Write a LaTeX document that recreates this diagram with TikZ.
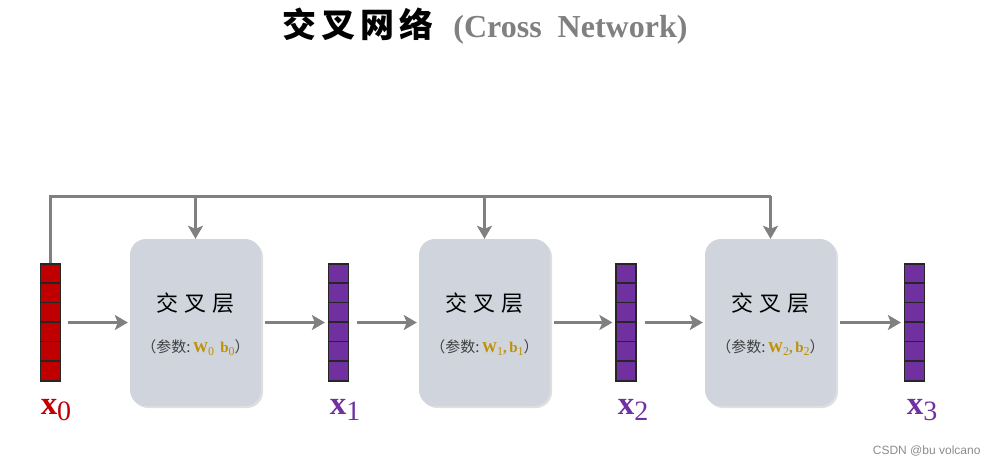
\documentclass[tikz,border=0pt]{standalone}
\usepackage{fontspec}
\setmainfont{Liberation Serif}
\newfontfamily\cjk{Noto Sans CJK SC}
\newfontfamily\wm{Liberation Sans}
\usetikzlibrary{arrows.meta,shadows}
\definecolor{arrgray}{HTML}{808080}
\definecolor{boxfill}{HTML}{CFD4DD}
\definecolor{vred}{HTML}{C00000}
\definecolor{vpurple}{HTML}{7030A0}
\definecolor{gold}{HTML}{BF9000}
\newcommand{\vlab}[1]{{\fontsize{33}{34}\selectfont\textbf{x}}{\fontsize{28}{30}\selectfont\raisebox{-6pt}{#1}}}
\begin{document}
\begin{tikzpicture}[x=1pt,y=-1pt,
  layerbox/.style={draw=none,fill=boxfill,rounded corners=16pt,minimum width=131pt,minimum height=167pt,
     drop shadow={shadow xshift=2pt,shadow yshift=-2pt,opacity=0.25}},
  flow/.style={draw=arrgray,line width=3pt,-{Stealth[length=13pt,width=15pt,inset=3pt]}},
  feed/.style={draw=arrgray,line width=3pt},
  vecbox/.style={draw=black!85,line width=1.2pt,minimum width=20pt,minimum height=117pt,inner sep=0pt},
  sepline/.style={draw=black!85,line width=1.3pt}
]
\useasboundingbox (0,0) rectangle (996,466);
% title
\node (title) at (485,26) {{\cjk\bfseries\fontsize{34}{36}\selectfont 交\hspace{5pt}叉\hspace{5pt}网\hspace{5pt}络}\hspace{20pt}{\color{arrgray}\bfseries\fontsize{32}{34}\selectfont (Cross\ \ Network)}};
% vectors
\foreach \nm/\cx/\col in {v0/50.5/vred, v1/338.5/vpurple, v2/626/vpurple, v3/914.5/vpurple}{
  \node[vecbox,fill=\col] (\nm) at (\cx,322.5) {};
  \foreach \k in {1,...,5}{
    \draw[sepline] ([yshift={-19.5*\k}]\nm.north west) -- ([yshift={-19.5*\k}]\nm.north east);
  }
}
% boxes
\node[layerbox] (L1) at (195.5,322.5) {};
\node[layerbox] (L2) at (484.5,322.5) {};
\node[layerbox] (L3) at (770.5,322.5) {};
\foreach \b/\i/\sep in {L1/0/\ ,L2/1/{,},L3/2/{,}}{
  \node (\b-t) at ([yshift=19pt]\b.center) {\cjk\fontsize{22}{24}\selectfont 交\hspace{6pt}叉\hspace{6pt}层};
  \node (\b-p) at ([yshift=-25pt]\b.center) {\fontsize{15}{17}\selectfont {\cjk\color{black!75}（参数:}\,{\color{gold}\bfseries W\raisebox{-3pt}{\fontsize{12}{14}\selectfont\mdseries\i}\sep\,b\raisebox{-3pt}{\fontsize{12}{14}\selectfont\mdseries\i}}{\cjk\color{black!75}）}};
}
% labels
\node[text=vred] (lx0) at (56,410) {\vlab{0}};
\node[text=vpurple] (lx1) at (345,410) {\vlab{1}};
\node[text=vpurple] (lx2) at (633,410) {\vlab{2}};
\node[text=vpurple] (lx3) at (922,410) {\vlab{3}};
% horizontal arrows
\draw[flow] ([xshift=7pt]v0.east) -- ([xshift=-2pt]L1.west);
\draw[flow] ([xshift=4pt]L1.east) -- ([xshift=-3pt]v1.west);
\draw[flow] ([xshift=8pt]v1.east) -- ([xshift=-2pt]L2.west);
\draw[flow] ([xshift=4pt]L2.east) -- ([xshift=-3pt]v2.west);
\draw[flow] ([xshift=8pt]v2.east) -- ([xshift=-2pt]L3.west);
\draw[flow] ([xshift=4pt]L3.east) -- ([xshift=-3pt]v3.west);
% feed line
\coordinate (top0) at (50.5,196);
\coordinate (top3) at (770.5,196);
\draw[feed] (v0.north) -- (top0) -- (top3);
\draw[flow] (L1.north |- top0) -- (L1.north);
\draw[flow] (L2.north |- top0) -- (L2.north);
\draw[flow] (top3) -- (L3.north);
% watermark
\node[text=black!45,anchor=east] (wm) at (984,451) {\wm\fontsize{12}{14}\selectfont CSDN @bu volcano};
\end{tikzpicture}
\end{document}
